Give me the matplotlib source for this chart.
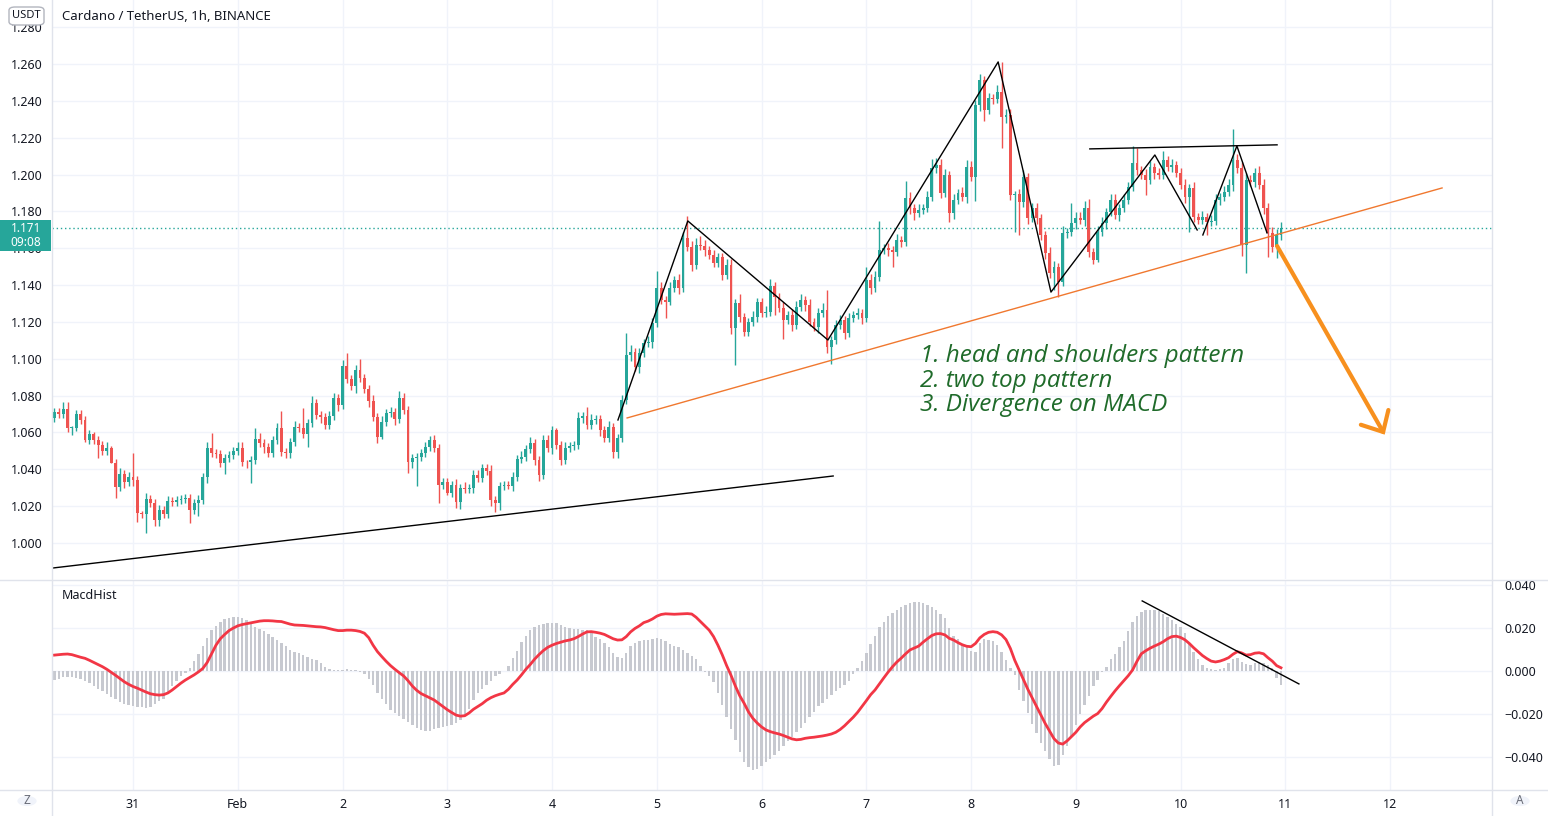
import matplotlib
matplotlib.use('Agg')
import matplotlib.pyplot as plt
import numpy as np
from matplotlib.lines import Line2D
from matplotlib.patches import FancyBboxPatch, Rectangle, Circle

plt.rcParams['font.family'] = ['Noto Sans', 'DejaVu Sans']

# ---------------- data ----------------
first_open = 1.0679
closes = [
    1.0711, 1.0700, 1.0727, 1.0624, 1.0626, 1.0700, 1.0668, 1.0559, 1.0592, 1.0559,
    1.0532, 1.0499, 1.0516, 1.0434, 1.0304, 1.0375, 1.0331, 1.0358, 1.0342, 1.0163,
    1.0157, 1.0239, 1.0217, 1.0125, 1.0179, 1.0157, 1.0228, 1.0223, 1.0233, 1.0239,
    1.0244, 1.0179, 1.0217, 1.0233, 1.0358, 1.0516, 1.0489, 1.0483, 1.0434, 1.0461,
    1.0478, 1.0499, 1.0516, 1.0440, 1.0438, 1.0451, 1.0565, 1.0543, 1.0521, 1.0489,
    1.0559, 1.0624, 1.0494, 1.0490, 1.0548, 1.0630, 1.0624, 1.0592, 1.0651, 1.0760,
    1.0695, 1.0684, 1.0641, 1.0689, 1.0787, 1.0749, 1.0961, 1.0890, 1.0852, 1.0939,
    1.0896, 1.0836, 1.0771, 1.0684, 1.0575, 1.0657, 1.0706, 1.0711, 1.0673, 1.0787,
    1.0722, 1.0440, 1.0461, 1.0467, 1.0489, 1.0521, 1.0559, 1.0516, 1.0315, 1.0331,
    1.0271, 1.0315, 1.0223, 1.0299, 1.0293, 1.0299, 1.0369, 1.0353, 1.0407, 1.0391,
    1.0233, 1.0217, 1.0309, 1.0315, 1.0312, 1.0358, 1.0456, 1.0467, 1.0510, 1.0543,
    1.0451, 1.0369, 1.0559, 1.0516, 1.0613, 1.0532, 1.0451, 1.0516, 1.0527, 1.0532,
    1.0679, 1.0689, 1.0641, 1.0668, 1.0673, 1.0613, 1.0570, 1.0630, 1.0494, 1.0570,
    1.0776, 1.1020, 1.1037, 1.0955, 1.1031, 1.1086, 1.1091, 1.1194, 1.1384, 1.1319,
    1.1310, 1.1384, 1.1428, 1.1384, 1.1656, 1.1607, 1.1509, 1.1618, 1.1612, 1.1590,
    1.1563, 1.1520, 1.1552, 1.1455, 1.1509, 1.1167, 1.1303, 1.1227, 1.1145, 1.1200,
    1.1227, 1.1308, 1.1248, 1.1254, 1.1395, 1.1335, 1.1276, 1.1210, 1.1238, 1.1183,
    1.1281, 1.1319, 1.1292, 1.1200, 1.1172, 1.1248, 1.1265, 1.1064, 1.1102, 1.1183,
    1.1210, 1.1140, 1.1221, 1.1238, 1.1248, 1.1221, 1.1428, 1.1384, 1.1444, 1.1590,
    1.1601, 1.1590, 1.1580, 1.1645, 1.1634, 1.1873, 1.1818, 1.1791, 1.1808, 1.1818,
    1.1878, 1.2036, 1.2052, 1.1900, 1.1998, 1.1791, 1.1862, 1.1900, 1.1878, 1.2041,
    1.1987, 1.2377, 1.2513, 1.2350, 1.2415, 1.2410, 1.2448, 1.2312, 1.2323, 1.1889,
    1.1893, 1.1851, 1.1987, 1.1764, 1.1818, 1.1764, 1.1672, 1.1574, 1.1466, 1.1498,
    1.1417, 1.1683, 1.1688, 1.1737, 1.1764, 1.1753, 1.1818, 1.1580, 1.1536, 1.1688,
    1.1737, 1.1797, 1.1862, 1.1780, 1.1818, 1.1862, 1.1932, 1.2063, 1.2025, 1.1998,
    1.1970, 1.2041, 1.2008, 1.1998, 1.2079, 1.2041, 1.2052, 1.2008, 1.1943, 1.1878,
    1.1927, 1.1770, 1.1753, 1.1770, 1.1742, 1.1748, 1.1862, 1.1878, 1.1905, 1.1943,
    1.2079, 1.2036, 1.1618, 1.1970, 1.1960, 1.2008, 1.1943, 1.1818, 1.1683, 1.1607,
    1.1672, 1.1710,
]
# upper / lower wick lengths beyond the body, in thousandths of USDT
wick_hi = [
    2, 2, 4, 4, 1, 2, 2, 2, 2, 1,   2, 2, 3, 1, 2, 3, 2, 3, 13, 2,
    1, 3, 2, 2, 3, 2, 3, 2, 2, 2,   2, 2, 2, 3, 2, 3, 8, 2, 2, 2,
    2, 2, 3, 3, 1, 2, 6, 3, 2, 2,   2, 3, 9, 2, 2, 3, 2, 11, 2, 4,
    2, 2, 2, 3, 3, 2, 3, 7, 2, 3,   6, 2, 2, 3, 2, 3, 2, 3, 2, 4,
    3, 2, 2, 2, 2, 3, 2, 3, 2, 2,   2, 2, 3, 2, 3, 2, 3, 3, 2, 2,
    3, 2, 2, 2, 2, 3, 2, 3, 2, 3,   2, 2, 3, 3, 2, 1, 2, 3, 2, 2,
    3, 2, 5, 3, 2, 2, 2, 3, 2, 2,   3, 12, 4, 2, 3, 2, 3, 3, 9, 3,
    2, 3, 2, 3, 3, 12, 3, 4, 5, 3,  2, 3, 2, 2, 3, 3, 2, 5, 2, 2,
    3, 2, 2, 3, 4, 2, 2, 3, 2, 3,   3, 3, 2, 3, 2, 3, 4, 11, 2, 3,
    3, 2, 3, 2, 3, 2, 7, 3, 3, 16,  2, 3, 2, 3, 2, 9, 3, 2, 3, 2,
    3, 5, 4, 3, 3, 2, 3, 2, 3, 4,   3, 3, 3, 2, 3, 2, 4, 16, 3, 3,
    2, 3, 4, 2, 3, 3, 2, 2, 3, 3,   2, 4, 2, 11, 3, 3, 4, 5, 2, 3,
    3, 2, 3, 3, 2, 3, 3, 9, 8, 2,   3, 3, 2, 3, 5, 2, 3, 2, 3, 3,
    2, 3, 2, 3, 2, 3, 3, 2, 3, 3,   17, 3, 3, 4, 3, 3, 4, 3, 3, 3,
    3, 3,
]
wick_lo = [
    2, 2, 2, 2, 4, 2, 2, 1, 2, 2,   7, 2, 2, 0, 6, 2, 3, 2, 3, 5,
    2, 10, 2, 3, 3, 2, 2, 2, 2, 2,  2, 7, 2, 7, 2, 3, 2, 2, 2, 6,
    2, 2, 2, 2, 3, 11, 2, 2, 3, 2,  2, 2, 2, 3, 3, 2, 2, 2, 7, 2,
    2, 3, 2, 2, 2, 3, 2, 2, 2, 4,   2, 2, 3, 2, 3, 1, 2, 2, 3, 2,
    2, 6, 3, 15, 2, 2, 2, 2, 10, 2, 1, 2, 3, 4, 2, 2, 3, 2, 2, 2,
    3, 5, 4, 2, 2, 3, 2, 2, 2, 2,   3, 3, 2, 2, 3, 2, 3, 2, 2, 2,
    2, 3, 2, 2, 2, 3, 2, 2, 3, 3,   2, 2, 3, 2, 3, 2, 2, 3, 2, 2,
    9, 2, 2, 3, 2, 2, 3, 2, 2, 3,   2, 2, 2, 3, 2, 3, 20, 3, 2, 2,
    2, 3, 2, 2, 2, 10, 2, 10, 2, 3, 2, 2, 3, 2, 2, 3, 2, 3, 9, 2,
    2, 3, 2, 2, 2, 3, 2, 3, 2, 2,   2, 3, 8, 2, 3, 2, 3, 4, 2, 2,
    2, 2, 3, 3, 2, 5, 3, 2, 2, 3,   2, 13, 3, 6, 2, 3, 2, 17, 3, 3,
    20, 18, 3, 3, 2, 3, 3, 3, 3, 9, 8, 2, 3, 2, 3, 2, 3, 3, 2, 1,
    2, 3, 2, 2, 3, 2, 2, 2, 3, 2,   8, 2, 3, 2, 2, 2, 3, 2, 2, 3,
    19, 3, 2, 2, 7, 2, 2, 3, 2, 2,  3, 3, 6, 15, 2, 3, 2, 3, 13, 3,
    6, 3,
]
# MACD histogram and signal line, in thousandths
macd_hist = [
    -4.2, -3.5, -3.0, -2.8, -3.0, -3.2, -3.6, -4.5, -5.8, -7.0,
    -8.2, -9.5, -10.8, -12.0, -13.2, -14.4, -15.2, -15.8, -16.3, -16.6,
    -16.9, -17.0, -16.6, -15.5, -14.0, -12.8, -10.0, -7.2, -4.5, -2.5,
    -0.8, 1.5, 4.5, 8.0, 11.5, 15.5, 19.0, 21.0, 22.8, 24.0,
    24.6, 25.0, 25.2, 24.6, 23.5, 22.0, 20.5, 19.5, 18.4, 17.0,
    15.8, 14.5, 13.0, 11.5, 10.0, 9.0, 8.2, 7.4, 6.6, 5.8,
    5.0, 3.5, 2.0, 1.0, 0.6, 0.4, 0.6, 0.8, 0.5, 0.3,
    -0.5, -1.5, -3.5, -6.5, -10.0, -13.0, -15.5, -18.0, -19.5, -21.0,
    -22.5, -23.8, -25.0, -26.5, -27.5, -28.0, -27.8, -27.0, -26.4, -26.0,
    -25.8, -25.0, -24.0, -23.0, -21.0, -17.5, -13.5, -10.0, -8.2, -6.5,
    -4.5, -2.5, -1.2, 0.0, 2.5, 6.0, 9.5, 13.5, 16.5, 19.0,
    20.5, 21.5, 22.0, 22.3, 22.5, 22.2, 21.5, 20.6, 20.0, 19.6,
    19.4, 19.2, 19.0, 17.8, 16.0, 14.8, 13.0, 11.0, 8.5, 6.5,
    6.0, 8.5, 11.5, 13.0, 13.8, 14.2, 14.6, 15.0, 15.3, 15.0,
    13.8, 12.5, 11.8, 11.0, 10.0, 8.5, 7.0, 5.5, 2.5, -0.5,
    -2.5, -5.0, -10.0, -16.0, -21.5, -27.0, -32.0, -37.5, -42.5, -44.5,
    -46.0, -45.5, -44.0, -42.5, -41.0, -39.0, -37.0, -34.8, -32.5, -30.5,
    -28.5, -26.3, -24.0, -21.5, -19.0, -16.5, -15.0, -13.0, -11.0, -9.5,
    -8.0, -6.5, -4.5, -1.5, 1.5, 4.5, 8.5, 12.5, 16.5, 20.5,
    23.0, 25.5, 27.2, 28.5, 29.8, 30.8, 31.6, 32.0, 32.0, 31.6,
    30.8, 30.0, 28.6, 26.5, 24.5, 20.0, 16.5, 15.0, 12.5, 11.0,
    9.5, 9.0, 13.0, 14.8, 14.5, 13.8, 12.0, 9.0, 5.0, 1.5,
    -2.0, -9.0, -14.0, -19.5, -24.5, -29.0, -33.5, -37.0, -41.0, -44.0,
    -43.5, -39.0, -35.0, -30.0, -25.0, -20.0, -16.0, -11.5, -7.0, -4.0,
    -0.5, 2.0, 5.5, 8.0, 11.0, 14.0, 18.5, 23.0, 25.5, 27.5,
    28.2, 28.5, 28.4, 27.8, 26.5, 25.2, 23.8, 22.0, 20.3, 17.8,
    13.0, 9.0, 5.5, 3.0, 1.5, 0.8, 0.5, 0.8, 1.5, 3.5,
    5.5, 6.0, 4.0, 3.2, 2.8, 3.5, 4.4, 3.8, 3.0, 1.5,
    -3.4, -6.5,
]
macd_signal = [
    7.4, 7.6, 7.8, 7.9, 7.6, 7.0, 6.4, 5.9, 5.0, 4.0,
    3.0, 2.0, 0.8, -0.6, -2.0, -3.5, -5.0, -6.2, -7.2, -8.0,
    -8.9, -9.8, -10.6, -11.0, -11.2, -11.0, -10.2, -8.8, -7.2, -5.6,
    -4.2, -3.0, -1.8, -0.4, 1.2, 4.0, 8.0, 12.0, 15.0, 17.0,
    18.8, 20.0, 21.0, 21.6, 22.0, 22.4, 22.8, 23.2, 23.4, 23.4,
    23.3, 23.1, 23.0, 22.4, 21.8, 21.4, 21.3, 21.2, 21.0, 20.8,
    20.6, 20.5, 20.2, 19.7, 19.2, 18.8, 18.8, 19.0, 19.0, 18.8,
    18.4, 17.6, 15.5, 12.0, 9.0, 6.7, 4.5, 2.5, 0.8, -0.8,
    -2.3, -4.5, -7.0, -9.0, -10.5, -11.5, -12.5, -13.5, -15.0, -16.5,
    -18.0, -19.3, -20.5, -21.0, -20.8, -19.5, -17.8, -16.5, -15.2, -13.6,
    -12.4, -11.5, -10.8, -10.2, -8.5, -6.2, -4.2, -1.8, 0.8, 3.0,
    5.5, 7.6, 9.5, 11.0, 12.0, 12.8, 13.4, 14.0, 14.4, 15.0,
    16.0, 17.2, 18.2, 18.3, 18.0, 17.6, 17.0, 16.0, 15.0, 14.4,
    14.5, 16.0, 18.2, 19.8, 21.0, 22.5, 23.2, 24.2, 25.5, 26.3,
    26.6, 26.5, 26.4, 26.5, 26.6, 26.7, 26.5, 25.0, 23.0, 21.0,
    19.0, 16.0, 12.0, 7.5, 2.5, -2.0, -7.0, -11.5, -15.0, -19.0,
    -22.0, -24.2, -26.0, -27.4, -28.2, -28.8, -29.3, -30.0, -30.8, -31.6,
    -32.0, -31.8, -31.3, -31.0, -30.8, -30.5, -30.2, -29.8, -29.3, -28.5,
    -27.2, -25.5, -23.5, -21.5, -19.2, -16.5, -13.8, -11.0, -8.8, -6.0,
    -3.2, -0.5, 2.0, 4.2, 6.0, 8.0, 9.8, 10.7, 11.6, 13.4,
    15.0, 16.5, 17.3, 17.4, 16.8, 15.2, 14.4, 13.2, 12.2, 11.5,
    11.3, 12.8, 15.4, 17.0, 18.0, 18.3, 18.0, 16.8, 14.6, 10.5,
    5.0, 0.5, -4.0, -8.5, -12.5, -16.5, -20.5, -24.5, -28.0, -31.5,
    -33.5, -34.0, -32.5, -30.5, -28.5, -26.0, -24.0, -22.5, -21.0, -19.8,
    -17.5, -14.5, -11.8, -9.2, -6.8, -4.5, -2.2, 0.5, 4.5, 8.0,
    9.4, 10.6, 11.6, 12.5, 13.6, 15.0, 16.0, 16.2, 15.6, 14.5,
    12.8, 10.8, 9.0, 7.2, 5.8, 4.6, 4.2, 4.6, 5.3, 6.2,
    7.8, 9.0, 8.4, 7.4, 7.6, 8.3, 8.5, 8.0, 6.2, 4.6,
    2.5, 1.5,
]
first_hour = -18              # hours after Jan 31 00:00 of the first candle
last_price = 1.171
day_ticks = [0, 24, 48, 72, 96, 120, 144, 168, 192, 216, 240, 264, 288]
day_labels = ['31', 'Feb', '2', '3', '4', '5', '6', '7', '8', '9', '10', '11', '12']
price_ticks = [1.000, 1.020, 1.040, 1.060, 1.080, 1.100, 1.120, 1.140,
               1.160, 1.180, 1.200, 1.220, 1.240, 1.260, 1.280]
macd_ticks = [0.04, 0.02, 0.0, -0.02, -0.04]
macd_tick_labels = ['0.040', '0.020', '0.000', '\u22120.020', '\u22120.040']

# drawings (hour, price)
support_line = [(-18.6, 0.9864), (160.4, 1.0364)]
rising_line = [(113.2, 1.0679), (299.9, 1.1927)]
zigzag_1 = [(111.1, 1.0668), (127.1, 1.1748), (159.2, 1.1102), (198.2, 1.2611),
            (210.3, 1.1362), (234.1, 1.2106), (243.8, 1.1699)]
zigzag_2 = [(245.1, 1.1672), (252.9, 1.2155), (259.8, 1.1683)]
neckline = [(219.2, 1.2139), (262.1, 1.2161)]
arrow_pts = [(262.1, 1.1612), (286.4, 1.0603)]
arrow_head = [(281.3, 1.0642), (286.4, 1.0603), (287.6, 1.0722)]
macd_trend = [(231.2, 0.0326), (267.1, -0.0060)]

# ---------------- figure ----------------
W, H = 1548, 816
fig = plt.figure(figsize=(W / 100, H / 100), dpi=100)
fig.patch.set_facecolor('white')


def fx(px):
    return px / W


def fy(py):
    return 1 - py / H


TEAL = '#26a69a'
RED = '#ef5350'
GRID = '#f0f3fa'
BORDER = '#e0e3eb'
TXT = '#131722'

ax = fig.add_axes([fx(52), fy(579), fx(1492) - fx(52), fy(0) - fy(579)])
axm = fig.add_axes([fx(52), fy(790), fx(1492) - fx(52), fy(580) - fy(790)], sharex=ax)

hours = np.arange(first_hour, first_hour + len(closes))
c = np.array(closes)
o = np.concatenate([[first_open], c[:-1]])
hi = np.maximum(o, c) + np.array(wick_hi) / 1000.0
lo = np.minimum(o, c) - np.array(wick_lo) / 1000.0
up = c >= o
cols = np.where(up, TEAL, RED)

for a in (ax, axm):
    for s in a.spines.values():
        s.set_visible(False)
    a.set_facecolor('white')

# price panel
ax.set_xlim(-18.56, 311.34)
ax.set_ylim(0.9805, 1.2947)
for t in day_ticks:
    ax.axvline(t, color=GRID, lw=1, zorder=0)
for p in price_ticks:
    ax.axhline(p, color=GRID, lw=1, zorder=0)

ax.vlines(hours, lo, hi, colors=cols, lw=1, zorder=3)
body = np.maximum(np.abs(c - o), 0.0004)
ax.bar(hours, body, bottom=np.minimum(o, c), width=0.66, color=cols, linewidth=0, zorder=4)

ax.axhline(last_price, color=TEAL, lw=1, ls=(0, (1, 2)), zorder=2)

ax.plot(*zip(*support_line), color='black', lw=1.0, zorder=5)
ax.plot(*zip(*rising_line), color='#f0782f', lw=1.0, zorder=5)
ax.plot(*zip(*zigzag_1), color='black', lw=1.0, zorder=5)
ax.plot(*zip(*zigzag_2), color='black', lw=1.0, zorder=5)
ax.plot(*zip(*neckline), color='black', lw=1.0, zorder=5)
ax.plot(*zip(*arrow_pts), color='#f7901e', lw=3, solid_capstyle='round', zorder=6)
ax.plot(*zip(*arrow_head), color='#f7901e', lw=3, solid_capstyle='round',
        solid_joinstyle='miter', zorder=6)

ax.set_yticks(price_ticks)
ax.set_yticklabels([f'{p:.3f}' for p in price_ticks])
ax.tick_params(axis='y', length=0, pad=7, labelsize=9, labelcolor=TXT)
ax.tick_params(axis='x', length=0, labelbottom=False)

# MACD panel
axm.set_ylim(-0.05535, 0.04233)
for t in day_ticks:
    axm.axvline(t, color=GRID, lw=1, zorder=0)
for m in macd_ticks:
    axm.axhline(m, color=GRID, lw=1, zorder=0)
axm.bar(hours, np.array(macd_hist) / 1000.0, width=0.55, color='#c7c9d0', linewidth=0, zorder=2)
axm.plot(hours, np.array(macd_signal) / 1000.0, color='#f23645', lw=2, zorder=3)
axm.plot(*zip(*macd_trend), color='black', lw=1.0, zorder=4)

axm.yaxis.tick_right()
axm.set_yticks(macd_ticks)
axm.set_yticklabels(macd_tick_labels)
axm.tick_params(axis='y', length=0, pad=9, labelsize=9, labelcolor=TXT)
axm.set_xticks(day_ticks)
axm.set_xticklabels(day_labels)
axm.tick_params(axis='x', length=0, pad=6, labelsize=9, labelcolor=TXT)
axm.get_xticklabels()[1].set_fontweight('bold')
axm.text(0.0069, 0.925, 'MacdHist', transform=axm.transAxes, fontsize=9, color=TXT,
         va='center', ha='left')

# frame lines across the whole figure
for (x0, y0, x1, y1) in [(52, 0, 52, 816), (1492, 0, 1492, 816),
                         (0, 579.5, 1548, 579.5), (0, 789.5, 1548, 789.5)]:
    fig.add_artist(Line2D([fx(x0), fx(x1)], [fy(y0), fy(y1)], color=BORDER, lw=1))

# annotation text
fig.text(fx(920), fy(344), '1. head and shoulders pattern\n2. two top pattern\n3. Divergence on MACD',
         fontsize=17.5, style='italic', color='#1f6b2a', va='top', ha='left',
         linespacing=1.04, family=['Open Sans', 'DejaVu Sans'])

# title and badges
fig.text(fx(62), fy(16), 'Cardano / TetherUS, 1h, BINANCE', fontsize=9.5, fontweight='semibold',
         color=TXT, va='center', ha='left')
fig.add_artist(FancyBboxPatch((fx(9), fy(25)), fx(35), fy(7) - fy(25),
                              boxstyle='round,pad=0,rounding_size=0.004',
                              transform=fig.transFigure, facecolor='white', edgecolor='#b2b5be', lw=1))
fig.text(fx(26.5), fy(16), 'USDT', fontsize=8, color=TXT, va='center', ha='center')

fig.add_artist(Rectangle((fx(0), fy(251)), fx(51), fy(220) - fy(251), transform=fig.transFigure,
                         facecolor=TEAL, edgecolor='none'))
fig.text(fx(26), fy(229), f'{last_price:.3f}', fontsize=8.5, color='white', va='center', ha='center',
         fontweight='semibold')
fig.text(fx(26), fy(242), '09:08', fontsize=8.5, color='white', va='center', ha='center')

for (xc, lab) in [(27, 'Z'), (1520, 'A')]:
    fig.add_artist(Circle((fx(xc), fy(801)), 0.0062, transform=fig.transFigure,
                          facecolor='#f0f3fa', edgecolor='none'))
    fig.text(fx(xc), fy(801), lab, fontsize=8.5, color='#6a6d78', va='center', ha='center')

fig.savefig('out.png', dpi=100, facecolor='white')
